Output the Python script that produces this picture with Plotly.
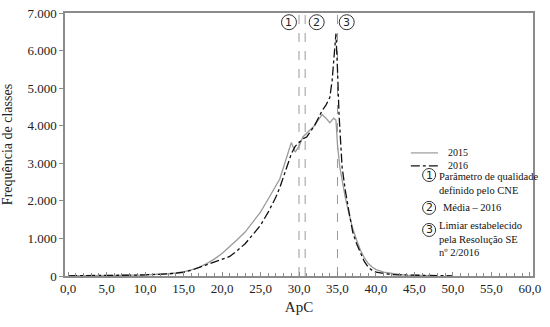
import plotly.graph_objects as go

# ---- data ----
x_2015 = [0, 1, 2, 3, 4, 5, 6, 7, 8, 9, 10, 11, 12, 13, 14, 15, 16, 17, 18, 19, 20,
          21, 22, 23, 24, 25, 26, 27, 27.5, 28, 28.5, 29, 29.5, 30, 30.5, 31, 31.5,
          32, 32.5, 33, 33.5, 34, 34.5, 34.8, 35, 35.3, 35.7, 36, 36.5, 37, 37.5,
          38, 38.5, 39, 39.5, 40, 41, 42, 43, 44, 45, 46, 47, 48]
y_2015 = [5, 5, 8, 10, 10, 12, 15, 18, 20, 25, 30, 35, 45, 60, 80, 110, 160, 230, 330, 450, 600,
          780, 970, 1170, 1420, 1700, 2050, 2400, 2580, 2900, 3250, 3550, 3300, 3450, 3700, 3800, 3900,
          4000, 4150, 4300, 4200, 4080, 4200, 4150, 3500, 2900, 2450, 2100, 1650, 1250, 950,
          680, 480, 330, 240, 170, 100, 60, 40, 25, 15, 8, 5, 3]

x_2016 = [0, 1, 2, 3, 4, 5, 6, 7, 8, 9, 10, 11, 12, 13, 14, 15, 16, 17, 18, 19, 20,
          21, 22, 23, 24, 25, 26, 27, 27.5, 28, 28.5, 29, 29.5, 30, 30.5, 31, 31.5,
          32, 32.5, 33, 33.5, 34, 34.3, 34.6, 34.8, 35, 35.2, 35.6, 36, 36.5, 37, 37.5,
          38, 38.5, 39, 39.5, 40, 41, 42, 43, 44, 45, 46, 47, 48, 49, 50]
y_2016 = [5, 5, 8, 10, 12, 12, 15, 18, 20, 25, 30, 35, 45, 55, 75, 100, 150, 220, 300, 380, 440,
          520, 680, 860, 1100, 1350, 1700, 2100, 2350, 2650, 2950, 3250, 3450, 3550, 3650, 3700, 3850,
          4000, 4200, 4400, 4550, 4750, 5200, 6000, 6450, 5500, 4300, 2900, 2300, 1700, 1150, 850,
          600, 380, 230, 150, 100, 60, 40, 30, 25, 20, 15, 10, 8, 5, 3]

ref_lines = [30.0, 30.8, 35.0]
ref_marks = ["1", "2", "3"]
ref_mark_x = [28.7, 32.3, 36.2]
x_ticks = [0, 5, 10, 15, 20, 25, 30, 35, 40, 45, 50, 55, 60]
y_ticks = [0, 1000, 2000, 3000, 4000, 5000, 6000, 7000]
series_names = ["2015", "2016"]

SERIF = "Liberation Serif"
AX = "#8c8c8c"
C2015 = "#9a9a9a"
C2016 = "#111111"

fig = go.Figure()
fig.add_trace(go.Scatter(x=x_2015, y=y_2015, mode="lines", name=series_names[0],
                         line=dict(color=C2015, width=1.3)))
fig.add_trace(go.Scatter(x=x_2016, y=y_2016, mode="lines", name=series_names[1],
                         line=dict(color=C2016, width=1.3, dash="dashdot")))

for xv in ref_lines:
    fig.add_shape(type="line", xref="x", yref="paper", x0=xv, x1=xv, y0=0, y1=1,
                  line=dict(color="#808080", width=0.8, dash="dash"), layer="below")


def circled(fig, x, y, xref, label, r=7):
    fig.add_shape(type="circle", xref=xref, yref="paper", xsizemode="pixel", ysizemode="pixel",
                  xanchor=x, yanchor=y, x0=-r, x1=r, y0=-r, y1=r,
                  line=dict(color="#333333", width=1), fillcolor="white")
    fig.add_annotation(x=x, y=y, xref=xref, yref="paper", text=label, showarrow=False,
                       xanchor="center", yanchor="middle",
                       font=dict(family="DejaVu Sans", size=11, color="#222222"))


for xm, m in zip(ref_mark_x, ref_marks):
    circled(fig, xm, 0.965, "x", m, r=7.5)

# manual legend (lines + one two-line label)
leg = [(0.468, C2015, "solid"), (0.419, C2016, "dashdot")]
for ly, col, dsh in leg:
    fig.add_shape(type="line", xref="paper", yref="paper", x0=0.739, x1=0.797, y0=ly, y1=ly,
                  line=dict(color=col, width=1.2, dash=dsh))
fig.add_annotation(x=0.814, y=0.4435, xref="paper", yref="paper",
                   text="<br>".join(series_names), showarrow=False,
                   xanchor="left", yanchor="middle", align="left",
                   font=dict(family=SERIF, size=10, color="#111111"))

notes = [
    (0.384, "1", 0.795, 0.406, "top", "Parâmetro de qualidade<br>definido pelo CNE"),
    (0.259, "2", 0.803, 0.259, "middle", "Média \u2013 2016"),
    (0.175, "3", 0.795, 0.221, "top", "Limiar estabelecido<br>pela Resolução SE<br>nº 2/2016"),
]
for cy, m, tx, ty, ya, txt in notes:
    circled(fig, 0.778, cy, "paper", m, r=6.5)
    fig.add_annotation(x=tx, y=ty, xref="paper", yref="paper", text=txt, showarrow=False,
                       xanchor="left", yanchor=ya, align="left",
                       font=dict(family=SERIF, size=10.5, color="#111111"))

fig.update_layout(
    width=550, height=327,
    margin=dict(l=65, r=17, t=13, b=51),
    paper_bgcolor="white", plot_bgcolor="white",
    separators=",.",
    font=dict(family=SERIF, size=13, color="#222222"),
    showlegend=False,
    xaxis=dict(range=[-0.4, 60.4], tickvals=x_ticks, tickformat=".1f", automargin=False,
               ticklabeloverflow="allow",
               showgrid=False, zeroline=False, showline=True, linecolor=AX, linewidth=1.5,
               mirror=True, ticks="inside", ticklen=4, tickcolor=AX,
               minor=dict(dtick=1, ticks="inside", ticklen=3, tickcolor=AX),
               title=dict(text="ApC", font=dict(size=15), standoff=6)),
    yaxis=dict(range=[0, 7000], tickvals=y_ticks, tickformat=",d", automargin=False,
               ticklabeloverflow="allow",
               showgrid=False, zeroline=False, showline=True, linecolor=AX, linewidth=1.5,
               mirror=True, ticks="outside", ticklen=4, tickcolor=AX,
               title=dict(text="Frequência de classes", font=dict(size=14), standoff=15)),
)

fig.write_html("out.html", config={"displayModeBar": False},
               post_script="document.body.style.margin='0';document.body.style.overflow='hidden';")
